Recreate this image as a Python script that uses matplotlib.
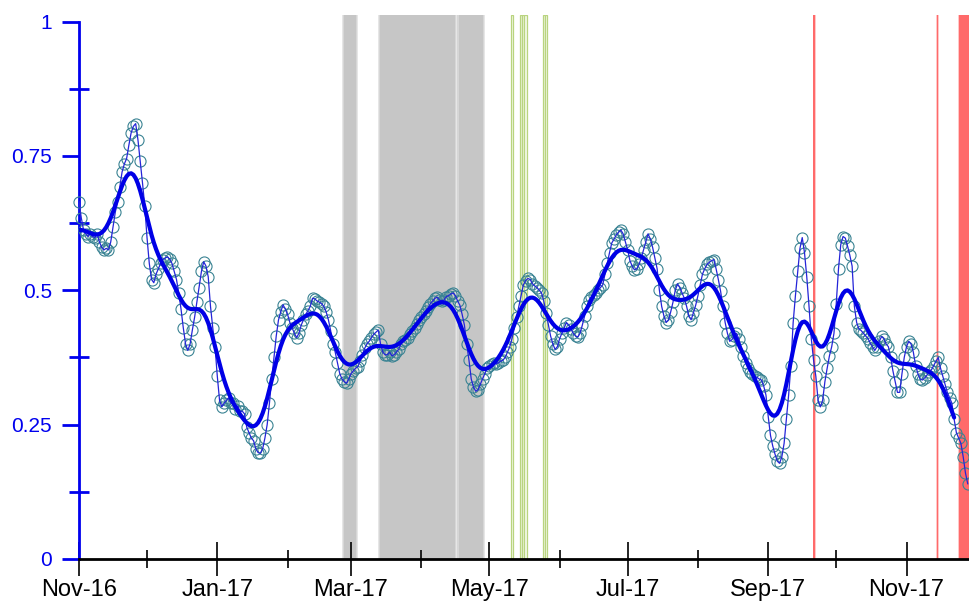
import numpy as np
import matplotlib
matplotlib.use("Agg")
import matplotlib.pyplot as plt
import matplotlib.dates as mdates

plt.rcParams['font.family'] = ['Liberation Sans', 'DejaVu Sans']

# ---------------- data ----------------
start_date = np.datetime64('2016-11-01')
end_date = np.datetime64('2017-11-29')

values = [
    0.665, 0.635, 0.612, 0.605, 0.60, 0.605, 0.60, 0.598, 0.605, 0.59,
    0.58, 0.575, 0.578, 0.575, 0.59, 0.618, 0.645, 0.665, 0.693, 0.72,
    0.735, 0.745, 0.77, 0.793, 0.805, 0.81, 0.78, 0.74, 0.70, 0.657,
    0.598, 0.55, 0.52, 0.514, 0.53, 0.54, 0.55, 0.557, 0.56, 0.562,
    0.558, 0.55, 0.535, 0.52, 0.495, 0.465, 0.43, 0.40, 0.388, 0.40,
    0.426, 0.45, 0.478, 0.505, 0.535, 0.553, 0.545, 0.525, 0.47, 0.43,
    0.395, 0.34, 0.295, 0.283, 0.29, 0.295, 0.30, 0.29, 0.29, 0.28,
    0.285, 0.275, 0.275, 0.27, 0.245, 0.235, 0.225, 0.22, 0.205, 0.198,
    0.197, 0.205, 0.225, 0.25, 0.29, 0.335, 0.375, 0.415, 0.445, 0.46,
    0.473, 0.465, 0.455, 0.44, 0.43, 0.42, 0.412, 0.42, 0.435, 0.445,
    0.455, 0.462, 0.47, 0.485, 0.484, 0.48, 0.478, 0.475, 0.47, 0.46,
    0.445, 0.425, 0.40, 0.385, 0.365, 0.345, 0.335, 0.33, 0.327, 0.335,
    0.345, 0.35, 0.355, 0.358, 0.368, 0.38, 0.392, 0.40, 0.405, 0.412,
    0.418, 0.422, 0.426, 0.40, 0.385, 0.38, 0.38, 0.385, 0.378, 0.38,
    0.385, 0.39, 0.40, 0.405, 0.408, 0.412, 0.418, 0.425, 0.43, 0.438,
    0.445, 0.45, 0.455, 0.462, 0.468, 0.475, 0.48, 0.485, 0.487, 0.482,
    0.48, 0.482, 0.488, 0.49, 0.493, 0.495, 0.49, 0.48, 0.472, 0.455,
    0.435, 0.40, 0.37, 0.335, 0.32, 0.312, 0.315, 0.325, 0.335, 0.345,
    0.355, 0.36, 0.362, 0.365, 0.363, 0.365, 0.368, 0.37, 0.375, 0.385,
    0.395, 0.41, 0.43, 0.45, 0.47, 0.49, 0.51, 0.518, 0.522, 0.52,
    0.512, 0.508, 0.505, 0.50, 0.495, 0.48, 0.458, 0.435, 0.415, 0.40,
    0.39, 0.395, 0.41, 0.42, 0.43, 0.44, 0.435, 0.428, 0.42, 0.415,
    0.413, 0.42, 0.435, 0.452, 0.47, 0.482, 0.488, 0.492, 0.495, 0.50,
    0.505, 0.51, 0.53, 0.55, 0.57, 0.588, 0.595, 0.603, 0.608, 0.612,
    0.605, 0.59, 0.575, 0.555, 0.545, 0.538, 0.54, 0.548, 0.56, 0.575,
    0.59, 0.605, 0.595, 0.58, 0.56, 0.54, 0.50, 0.47, 0.452, 0.44,
    0.445, 0.46, 0.478, 0.50, 0.512, 0.505, 0.495, 0.485, 0.47, 0.452,
    0.445, 0.458, 0.472, 0.49, 0.51, 0.53, 0.54, 0.548, 0.552, 0.555,
    0.557, 0.54, 0.52, 0.498, 0.47, 0.44, 0.42, 0.405, 0.408, 0.415,
    0.42, 0.41, 0.395, 0.378, 0.365, 0.355, 0.348, 0.344, 0.34, 0.338,
    0.335, 0.333, 0.322, 0.305, 0.265, 0.23, 0.21, 0.195, 0.182, 0.178,
    0.19, 0.215, 0.26, 0.305, 0.36, 0.44, 0.49, 0.535, 0.578, 0.598,
    0.57, 0.525, 0.47, 0.41, 0.37, 0.34, 0.295, 0.283, 0.295, 0.33,
    0.355, 0.378, 0.395, 0.42, 0.475, 0.54, 0.585, 0.60, 0.597, 0.582,
    0.565, 0.545, 0.47, 0.44, 0.428, 0.425, 0.42, 0.415, 0.41, 0.402,
    0.395, 0.388, 0.395, 0.405, 0.414, 0.41, 0.40, 0.395, 0.375, 0.35,
    0.33, 0.31, 0.31, 0.345, 0.375, 0.395, 0.405, 0.40, 0.385, 0.36,
    0.345, 0.335, 0.333, 0.337, 0.342, 0.348, 0.352, 0.36, 0.368, 0.375,
    0.355, 0.34, 0.325, 0.31, 0.30, 0.29, 0.26, 0.235, 0.225, 0.215,
    0.19, 0.16, 0.14,
]

# event periods (day offsets from start_date)
gray_spans = [(116.6, 122.5), (132.5, 166.0), (167.2, 178.2)]
green_spans = [(190.6, 191.5), (194.5, 195.5), (195.5, 196.5), (196.5, 197.5),
               (204.7, 205.6), (205.6, 206.5)]
red_spans = [(323.9, 324.7), (378.3, 379.1), (388.0, 392.6)]

smooth_sigma_days = 5
smooth_last_day = 386

y_ticks = [0, 0.25, 0.5, 0.75, 1]
y_tick_labels = ['0', '0.25', '0.5', '0.75', '1']
y_minor_ticks = [0.125, 0.375, 0.625, 0.875]

# ---------------- derived ----------------
vals = np.array(values)
days = np.arange(len(vals))
dates = start_date + days.astype('timedelta64[D]')
x0 = mdates.date2num(start_date)


def gauss_smooth(y, s):
    k = np.arange(-4 * s, 4 * s + 1)
    w = np.exp(-0.5 * (k / s) ** 2)
    w /= w.sum()
    p = len(k) // 2
    yp = np.pad(y, p, mode='reflect')
    return np.convolve(yp, w, mode='valid')


smooth = gauss_smooth(vals, smooth_sigma_days)

# ---------------- figure ----------------
W, H = 970, 605
fig = plt.figure(figsize=(W / 100, H / 100), dpi=100)
ax = fig.add_axes([79 / W, 46 / H, 891 / W, 544 / H])

# bands (soft edges)
for a, b in gray_spans:
    ax.axvspan(x0 + a - 0.7, x0 + b + 0.7, color='#e6e6e6', lw=0, zorder=1)
    ax.axvspan(x0 + a - 0.3, x0 + b + 0.3, color='#d6d6d6', lw=0, zorder=1)
    ax.axvspan(x0 + a + 0.2, x0 + b - 0.2, color='#c6c6c6', lw=0, zorder=1)
for a, b in green_spans:
    ax.axvspan(x0 + a, x0 + b, facecolor='#f4f9ea', edgecolor='#b9d47f', lw=0.9, zorder=1)
for a, b in red_spans:
    ax.axvspan(x0 + a - 0.3, x0 + b + 0.3, color='#ffc8c8', lw=0, zorder=1)
    ax.axvspan(x0 + a, x0 + b, color='#ff6a6a', lw=0, zorder=1)

# data
ax.plot(dates, vals, ls='none', marker='o', ms=8.0, mfc='none', mec='#3a8393',
        mew=0.8, zorder=3, clip_on=False)
ax.plot(dates, vals, color='#2424d8', lw=0.9, zorder=4)
ax.plot(dates[:smooth_last_day + 1], smooth[:smooth_last_day + 1], color='#0000e6',
        lw=3.0, zorder=5, solid_capstyle='round')

# axes limits
ax.set_xlim(start_date, end_date)
ax.set_ylim(0, 544 / 537.5)

for s in ['top', 'right']:
    ax.spines[s].set_visible(False)
ax.spines['left'].set_color('#0000ee')
ax.spines['left'].set_linewidth(2.0)
ax.spines['left'].set_bounds(0, 1)
ax.spines['bottom'].set_color('black')
ax.spines['bottom'].set_linewidth(2.0)
ax.spines['bottom'].set_zorder(6)

# x ticks
ax.xaxis.set_major_locator(mdates.MonthLocator(bymonth=[1, 3, 5, 7, 9, 11]))
ax.xaxis.set_major_formatter(mdates.DateFormatter('%b-%y'))
ax.xaxis.set_minor_locator(mdates.MonthLocator(bymonth=[2, 4, 6, 8, 10, 12]))
ax.tick_params(axis='x', which='major', direction='inout', length=24.5, width=1.2,
               color='black', labelsize=17, pad=2, labelcolor='black')
ax.tick_params(axis='x', which='minor', direction='inout', length=12.7, width=1.2,
               color='black')

# y ticks
ax.set_yticks(y_ticks)
ax.set_yticklabels(y_tick_labels)
ax.set_yticks(y_minor_ticks, minor=True)
ax.tick_params(axis='y', which='major', direction='out', length=12.6, width=2.0,
               color='#0000ee', labelsize=15, pad=7, labelcolor='#0000ee')
ax.tick_params(axis='y', which='minor', direction='inout', length=13.7, width=2.0,
               color='#0000ee')

fig.savefig('out.png', dpi=100)
